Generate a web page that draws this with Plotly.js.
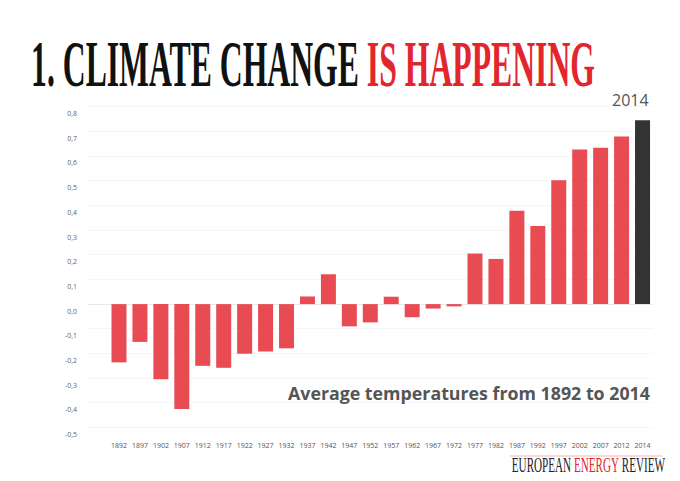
<!DOCTYPE html>
<html>
<head>
<meta charset="utf-8">
<script src="https://cdn.plot.ly/plotly-3.0.1.min.js"></script>
<style>
  html, body { margin: 0; padding: 0; background: #fff; }
  #chart { width: 680px; height: 481px; }
</style>
</head>
<body>
<div id="chart"></div>
<script>
// ---- data ----
const years = ["1892","1897","1902","1907","1912","1917","1922","1927","1932","1937","1942","1947","1952","1957","1962","1967","1972","1977","1982","1987","1992","1997","2002","2007","2012","2014"];
const anomalies = [-0.236,-0.153,-0.304,-0.425,-0.250,-0.258,-0.201,-0.192,-0.179,0.031,0.121,-0.090,-0.074,0.030,-0.053,-0.018,-0.009,0.205,0.183,0.378,0.317,0.502,0.626,0.634,0.679,0.745];
const yTickVals = [0.8,0.7,0.6,0.5,0.4,0.3,0.2,0.1,0.0,-0.1,-0.2,-0.3,-0.4,-0.5];
const yTickText = ["0,8","0,7","0,6","0,5","0,4","0,3","0,2","0,1","0,0","-0,1","-0,2","-0,3","-0,4","-0,5"];
const highlightYear = "2014";

const RED = "#e84b52", DARK = "#333333";
const barColors = years.map(y => y === highlightYear ? DARK : RED);
const hlIndex = years.indexOf(highlightYear);

const trace = {
  type: "bar",
  x: years,
  y: anomalies,
  marker: { color: barColors, line: { width: 0 } },
  hoverinfo: "x+y"
};

const layout = {
  width: 680, height: 481,
  margin: { l: 88, r: 26.5, t: 100, b: 51 },
  paper_bgcolor: "#ffffff",
  plot_bgcolor: "#ffffff",
  showlegend: false,
  bargap: 0.284,
  xaxis: {
    type: "category",
    range: [-1.48, 25.5],
    tickmode: "linear", tick0: 0, dtick: 1,
    tickangle: 0,
    showgrid: false, zeroline: false, showline: false,
    ticks: "",
    ticklabelstandoff: 10,
    tickfont: { family: "Open Sans", size: 7, color: "#555555" }
  },
  yaxis: {
    range: [-0.510, 0.827],
    tickmode: "array",
    tickvals: yTickVals,
    ticktext: yTickText,
    showgrid: true, gridcolor: "#f6f6f6", gridwidth: 1,
    zeroline: true, zerolinecolor: "#e8e8e8", zerolinewidth: 1,
    showline: false, ticks: "",
    ticklabelstandoff: 10,
    ticklabelshift: 7,
    tickfont: { family: "Open Sans", size: 7, color: "#666666" }
  },
  annotations: [
    {
      xref: "paper", yref: "paper",
      x: (29 - 88) / 565.5, xanchor: "left",
      y: 1 + (100 - 64) / 330, yanchor: "middle",
      text: '1. CLIMATE CHANGE <span style="color:#e3262e">IS HAPPENING</span>',
      showarrow: false,
      font: { family: "Liberation Serif", size: 66, color: "#111111", weight: 700 }
    },
    {
      xref: "x", yref: "y",
      x: hlIndex, y: anomalies[hlIndex],
      xanchor: "right", yanchor: "bottom",
      xshift: 8, yshift: 7,
      text: highlightYear,
      showarrow: false,
      font: { family: "Open Sans", size: 16, color: "#555555" }
    },
    {
      xref: "paper", yref: "paper",
      x: (652 - 88) / 565.5, xanchor: "right",
      y: (430 - 393) / 330, yanchor: "middle",
      text: "<b>Average temperatures from 1892 to 2014</b>",
      showarrow: false,
      font: { family: "Open Sans", size: 17.8, color: "#555555" }
    },
    {
      xref: "paper", yref: "paper",
      x: (510 - 88) / 565.5, xanchor: "left",
      y: (430 - 465) / 330, yanchor: "middle",
      text: 'EUROPEAN <span style="color:#e3262e">ENERGY</span> REVIEW',
      showarrow: false,
      font: { family: "Liberation Serif", size: 21, color: "#222222" }
    }
  ],
  shapes: [
    { type: "line", xref: "paper", yref: "paper",
      x0: (510 - 88) / 565.5, x1: (663 - 88) / 565.5,
      y0: (430 - 456) / 330, y1: (430 - 456) / 330,
      line: { color: "#f2b7b9", width: 1 } }
  ]
};

function squeeze(gd, idx, targetWidth) {
  const ann = gd.querySelector('.annotation[data-index="' + idx + '"] text.annotation-text');
  if (!ann) return;
  const bb = ann.getBBox();
  const s = targetWidth / bb.width;
  const x0 = bb.x;
  ann.setAttribute("transform", "translate(" + x0 + ",0) scale(" + s + ",1) translate(" + (-x0) + ",0)");
}

const gd = document.getElementById("chart");
Plotly.newPlot(gd, [trace], layout, { displayModeBar: false, staticPlot: true }).then(() => {
  squeeze(gd, 0, 564);
  squeeze(gd, 3, 153);
});
</script>
</body>
</html>
